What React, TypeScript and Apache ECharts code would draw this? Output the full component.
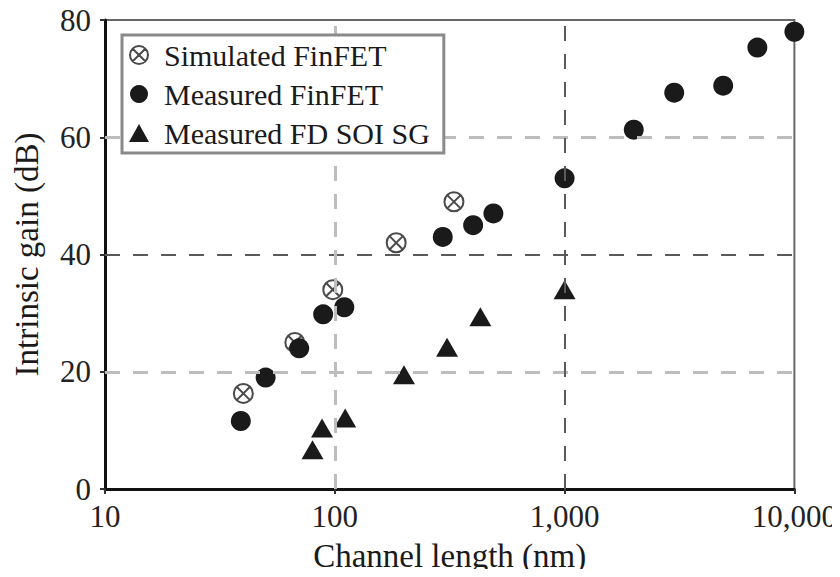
import React, { useEffect, useRef } from "react";
import * as echarts from "echarts";

// Channel length (nm) and intrinsic gain (dB) per device family
const simulatedFinFETLength = [40, 67, 98, 185, 330];
const simulatedFinFETGain = [16.3, 25, 34, 42, 49];

const measuredFinFETLength = [39, 50, 70, 89, 110, 295, 400, 490, 1000, 2000, 3000, 4900, 6900, 10000];
const measuredFinFETGain = [11.6, 19, 24, 29.8, 31, 43, 45, 47, 53, 61.3, 67.6, 68.8, 75.3, 78];

const measuredSOILength = [80, 88, 111, 200, 308, 430, 1000];
const measuredSOIGain = [6.7, 10.4, 12.1, 19.5, 24.2, 29.4, 34];

// Dashed reference lines: value and whether drawn in the darker shade
const yGridLines = [
  { value: 20, dark: false },
  { value: 40, dark: true },
  { value: 60, dark: false },
];
const xGridLines = [
  { value: 100, dark: false },
  { value: 1000, dark: true },
];

const seriesNames = ["Simulated FinFET", "Measured FinFET", "Measured FD SOI SG"];

// Circle with a diagonal cross inside
const circleCross =
  "path://M0,10 A10,10 0 1,1 20,10 A10,10 0 1,1 0,10 Z M3,3 L17,17 M17,3 L3,17";

const FONT = "'Liberation Serif', 'Times New Roman', serif";

const zip = (xs: number[], ys: number[]) => xs.map((x, i) => [x, ys[i]]);

const gridStyle = (dark: boolean) => ({
  color: dark ? "#5a5a5a" : "#bdbdbd",
  width: dark ? 2 : 3,
  type: [15, 13] as number[],
});

export default function App() {
  const ref = useRef<HTMLDivElement>(null);

  useEffect(() => {
    if (!ref.current) return;
    const chart = echarts.init(ref.current, null, { renderer: "svg" });
    chart.setOption({
      animation: false,
      backgroundColor: "#ffffff",
      textStyle: { fontFamily: FONT },
      grid: {
        left: 105,
        right: 43,
        top: 20,
        bottom: 88,
        show: true,
        borderColor: "#666666",
        borderWidth: 2,
        backgroundColor: "transparent",
      },
      legend: {
        orient: "vertical",
        left: 122,
        top: 35,
        data: seriesNames,
        padding: [5, 14, 5, 7],
        itemGap: 9,
        itemWidth: 20,
        itemHeight: 18,
        borderColor: "#8a8a8a",
        borderWidth: 3,
        borderRadius: 0,
        backgroundColor: "#ffffff",
        z: 10,
        textStyle: {
          fontFamily: FONT,
          fontSize: 30,
          color: "#1a1a1a",
          lineHeight: 30,
          padding: [0, 0, 0, 10],
        },
      },
      xAxis: {
        type: "log",
        logBase: 10,
        min: 10,
        max: 10000,
        name: "Channel length (nm)",
        nameLocation: "middle",
        nameGap: 50,
        nameTextStyle: { fontFamily: FONT, fontSize: 33, color: "#1a1a1a" },
        axisLine: { show: true, lineStyle: { color: "#111111", width: 3 } },
        axisTick: { show: true, length: 5, inside: false, lineStyle: { color: "#333", width: 2 } },
        minorTick: { show: false },
        splitLine: { show: false },
        axisLabel: {
          fontFamily: FONT,
          fontSize: 31,
          color: "#222222",
          margin: 12,
          formatter: (v: number) => Math.round(v).toLocaleString("en-US"),
        },
      },
      yAxis: {
        type: "value",
        min: 0,
        max: 80,
        interval: 20,
        name: "Intrinsic gain (dB)",
        nameLocation: "middle",
        nameGap: 62,
        nameTextStyle: { fontFamily: FONT, fontSize: 33, color: "#1a1a1a" },
        axisLine: { show: true, lineStyle: { color: "#111111", width: 3 } },
        axisTick: { show: true, length: 5, lineStyle: { color: "#333", width: 2 } },
        splitLine: { show: false },
        axisLabel: { fontFamily: FONT, fontSize: 31, color: "#222222", margin: 14 },
      },
      series: [
        {
          name: "grid-lines",
          type: "scatter",
          data: [],
          z: 1,
          silent: true,
          markLine: {
            silent: true,
            symbol: "none",
            label: { show: false },
            data: [
              ...yGridLines.map((g) => ({ yAxis: g.value, lineStyle: gridStyle(g.dark) })),
              ...xGridLines.map((g) => ({ xAxis: g.value, lineStyle: gridStyle(g.dark) })),
            ],
          },
        },
        {
          name: seriesNames[0],
          type: "scatter",
          z: 3,
          symbol: circleCross,
          symbolSize: 19,
          symbolKeepAspect: true,
          itemStyle: { color: "#ffffff", borderColor: "#4a4a4a", borderWidth: 2, opacity: 1 },
          data: zip(simulatedFinFETLength, simulatedFinFETGain),
        },
        {
          name: seriesNames[1],
          type: "scatter",
          z: 4,
          symbol: "circle",
          symbolSize: 20,
          itemStyle: { color: "#1a1a1a", opacity: 1 },
          data: zip(measuredFinFETLength, measuredFinFETGain),
        },
        {
          name: seriesNames[2],
          type: "scatter",
          z: 4,
          symbol: "triangle",
          symbolSize: [22, 19],
          itemStyle: { color: "#1a1a1a", opacity: 1 },
          data: zip(measuredSOILength, measuredSOIGain),
        },
      ],
    });
    return () => chart.dispose();
  }, []);

  return <div ref={ref} style={{ width: 840, height: 577, margin: -8 }} />;
}
